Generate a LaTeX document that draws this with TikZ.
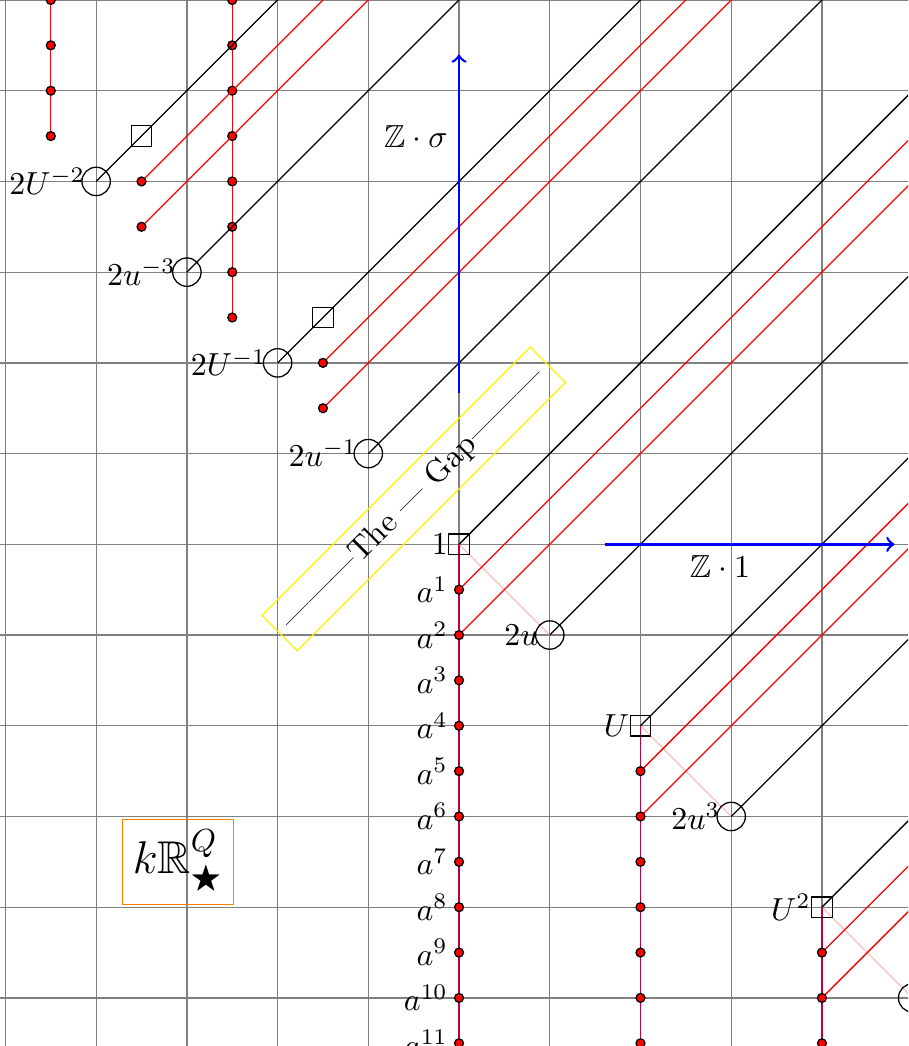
\documentclass[tikz,border=0pt]{standalone}
\usepackage{amssymb}
\begin{document}
\begin{tikzpicture}[x=0.5cm,y=0.5cm,
  sqr/.style={draw,rectangle,inner sep=0pt,minimum size=6.4pt},
  circ/.style={draw,circle,inner sep=0pt,minimum size=8.9pt},
  pt/.style={draw,circle,fill=red,inner sep=0pt,minimum size=2.8pt}]
\useasboundingbox (-10.12,-11.06) rectangle (9.9,12);
\clip (-10.12,-11.06) rectangle (9.9,12);

\draw[gray] (-11,-12) grid (10,13);

% positive cone
\foreach \k in {0,1,2}{
  \coordinate (s\k) at ({4*\k},{-4*\k});
  \coordinate (c\k) at ({4*\k+2},{-4*\k-2});
  \coordinate (r\k) at ({4*\k},{-4*\k-1});
  \coordinate (q\k) at ({4*\k},{-4*\k-2});
  \coordinate (b\k) at ({4*\k},-12);
}
% negative cone
\foreach \k in {1,2}{
  \coordinate (v\k) at ({-4*\k},{4*\k});
  \coordinate (w\k) at ({-4*\k+2},{4*\k-2});
  \coordinate (h\k) at ({-4*\k+1},{4*\k+1});
  \coordinate (m\k) at ({-4*\k+1},{4*\k});
  \coordinate (n\k) at ({-4*\k+1},{4*\k-1});
  \coordinate (t\k) at ({-4*\k-1},{4*\k+1});
  \coordinate (tt\k) at ({-4*\k-1},13);
}

\foreach \k in {0,1,2}{
  \draw[pink] (s\k) -- (c\k);
  \draw (s\k) -- ++(24,24);
  \draw (c\k) -- ++(24,24);
  \draw[red] (r\k) -- ++(24,24);
  \draw[red] (q\k) -- ++(24,24);
  \draw[purple] (s\k) -- (b\k);
  \foreach \j in {1,...,12}
    \node[pt] (d\k-\j) at ({4*\k},{-4*\k-\j}) {};
  \node[sqr] (S\k) at (s\k) {};
  \node[circ] (C\k) at (c\k) {};
}

\foreach \k in {1,2}{
  \draw (v\k) -- ++(24,24);
  \draw (w\k) -- ++(24,24);
  \draw[red] (m\k) -- ++(24,24);
  \draw[red] (n\k) -- ++(24,24);
  \draw[red] (t\k) -- (tt\k);
  \foreach \j in {0,...,8}
    \node[pt] (e\k-\j) at ({-4*\k-1},{4*\k+1+\j}) {};
  \node[pt] (M\k) at (m\k) {};
  \node[pt] (N\k) at (n\k) {};
  \node[sqr] (H\k) at (h\k) {};
  \node[circ] (V\k) at (v\k) {};
  \node[circ] (W\k) at (w\k) {};
}

% labels
\node[left] (l1) at (s0) {$1$};
\node[left] (l2u) at (c0) {$2u$};
\node[left] (lU) at (s1) {$U$};
\node[left] (l2u3) at (c1) {$2u^3$};
\node[left] (lU2) at (s2) {$U^2$};
\node[left] (l2um1) at (w1) {$2u^{-1}$};
\node[left] (l2Um1) at (v1) {$2U^{-1}$};
\node[left] (l2um3) at (w2) {$2u^{-3}$};
\node[left] (l2Um2) at (v2) {$2U^{-2}$};
\foreach \j in {1,...,11}
  \node[left] (la\j) at (0,-\j) {$a^{\j}$};

% generators
\coordinate (sig0) at (0,3.33);
\coordinate (sig1) at (0,10.8);
\draw[->,thick,blue] (sig0) -- (sig1);
\node[left] (zsig) at (0,9) {$\mathbb{Z}\cdot\sigma$};

\coordinate (one0) at (3.22,0);
\coordinate (one1) at (9.6,0);
\draw[->,thick,blue] (one0) -- (one1);
\node[below] (zone) at (5.75,0) {$\mathbb{Z}\cdot 1$};

\node[draw=yellow,rotate=45] (gap) at (-1,1) {———The — Gap———};

\node[draw=orange,font=\Large] (title) at (-6.2,-7) {$k\mathbb{R}^Q_\bigstar$};
\end{tikzpicture}
\end{document}
